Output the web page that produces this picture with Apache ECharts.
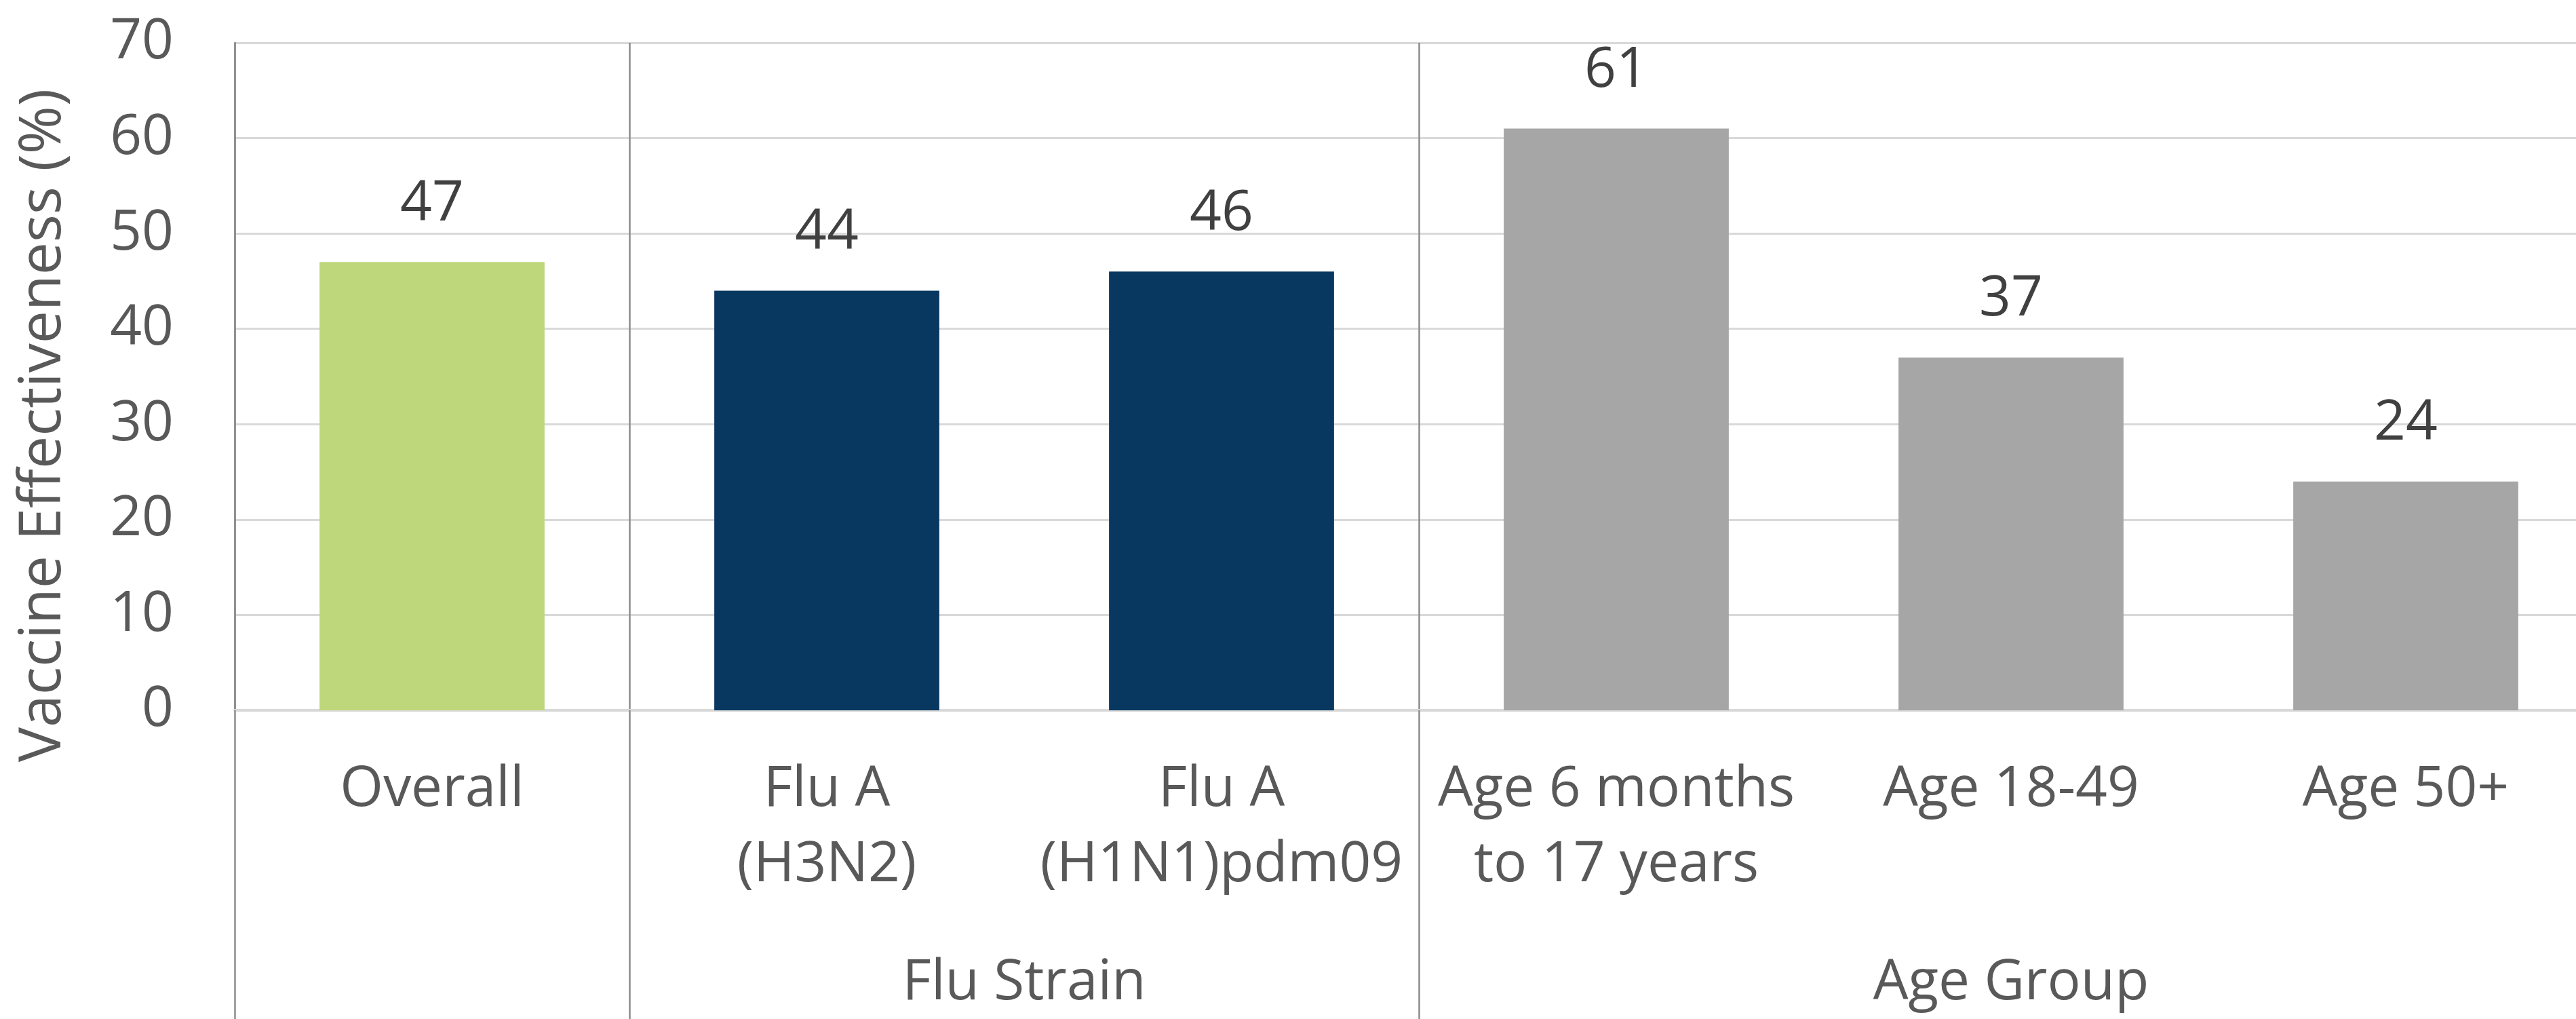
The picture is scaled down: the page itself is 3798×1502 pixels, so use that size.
<!DOCTYPE html>
<html>
<head>
<meta charset="utf-8">
<script src="https://cdn.jsdelivr.net/npm/echarts@6/dist/echarts.min.js"></script>
<style>
html,body{margin:0;padding:0;background:#fff;}
#chart{width:3798px;height:1502px;}
</style>
</head>
<body>
<div id="chart"></div>
<script>
// ---- data ----
var categories = ['Overall', 'Flu A\n(H3N2)', 'Flu A\n(H1N1)pdm09', 'Age 6 months\nto 17 years', 'Age 18-49', 'Age 50+'];
var values = [47, 44, 46, 61, 37, 24];
var groupNames = ['Flu Strain', 'Age Group'];
var groupFirst = [1, 3];   // first category index of each group
var groupLast = [2, 5];    // last category index of each group
var separatorIdx = [0, 1, 3]; // category boundaries with vertical separators
var yTicks = [0, 10, 20, 30, 40, 50, 60, 70];
var yTitle = 'Vaccine Effectiveness (%)';

// ---- styles ----
var barColors = ['#BDD77A', '#08375F', '#08375F', '#A6A6A6', '#A6A6A6', '#A6A6A6'];
var FONT = '"Open Sans", "Noto Sans", sans-serif';

var chart = echarts.init(document.getElementById('chart'), null, {renderer: 'canvas'});

var option = {
  backgroundColor: '#ffffff',
  animation: false,
  grid: {left: 346, top: 63, width: 3492, height: 984, containLabel: false, outerBoundsMode: 'none'},
  xAxis: {
    type: 'category',
    data: categories,
    boundaryGap: true,
    axisLine: {show: true, lineStyle: {color: '#D9D9D9', width: 4}},
    axisTick: {
      show: true,
      length: 460,
      interval: function (i) { return separatorIdx.indexOf(i) >= 0; },
      lineStyle: {color: '#8C8C8C', width: 2.5}
    },
    splitLine: {
      show: true,
      interval: function (i) { return separatorIdx.indexOf(i) >= 0; },
      lineStyle: {color: '#8C8C8C', width: 2.5}
    },
    axisLabel: {
      interval: 0,
      margin: 62,
      color: '#595959',
      fontFamily: FONT,
      fontSize: 82,
      lineHeight: 111,
      verticalAlign: 'top'
    }
  },
  yAxis: {
    type: 'value',
    min: yTicks[0],
    max: yTicks[yTicks.length - 1],
    interval: yTicks[1] - yTicks[0],
    axisLine: {show: true, lineStyle: {color: '#8C8C8C', width: 2.5}},
    axisTick: {show: false},
    splitLine: {show: true, lineStyle: {color: '#D9D9D9', width: 3}},
    axisLabel: {
      margin: 90,
      color: '#595959',
      fontFamily: FONT,
      fontSize: 82
    }
  },
  series: [{
    type: 'bar',
    data: values,
    barWidth: '57%',
    itemStyle: {
      color: function (p) { return barColors[p.dataIndex]; }
    },
    label: {
      show: true,
      position: 'top',
      distance: 44,
      color: '#404040',
      fontFamily: FONT,
      fontSize: 82
    }
  }]
};
chart.setOption(option);

// group labels and y-axis title, positioned with the chart's own scale
function placeGraphics() {
  var els = [];
  for (var g = 0; g < groupNames.length; g++) {
    var x1 = chart.convertToPixel({xAxisIndex: 0}, categories[groupFirst[g]]);
    var x2 = chart.convertToPixel({xAxisIndex: 0}, categories[groupLast[g]]);
    els.push({
      type: 'text',
      x: (x1 + x2) / 2,
      y: 1450,
      style: {
        text: groupNames[g],
        fill: '#595959',
        font: '82px ' + FONT,
        textAlign: 'center',
        textVerticalAlign: 'middle'
      }
    });
  }
  els.push({
    type: 'text',
    x: 64,
    y: 627,
    rotation: Math.PI / 2,
    style: {
      text: yTitle,
      fill: '#595959',
      font: '86px ' + FONT,
      textAlign: 'center',
      textVerticalAlign: 'middle'
    }
  });
  chart.setOption({graphic: els});
}
placeGraphics();
</script>
</body>
</html>
